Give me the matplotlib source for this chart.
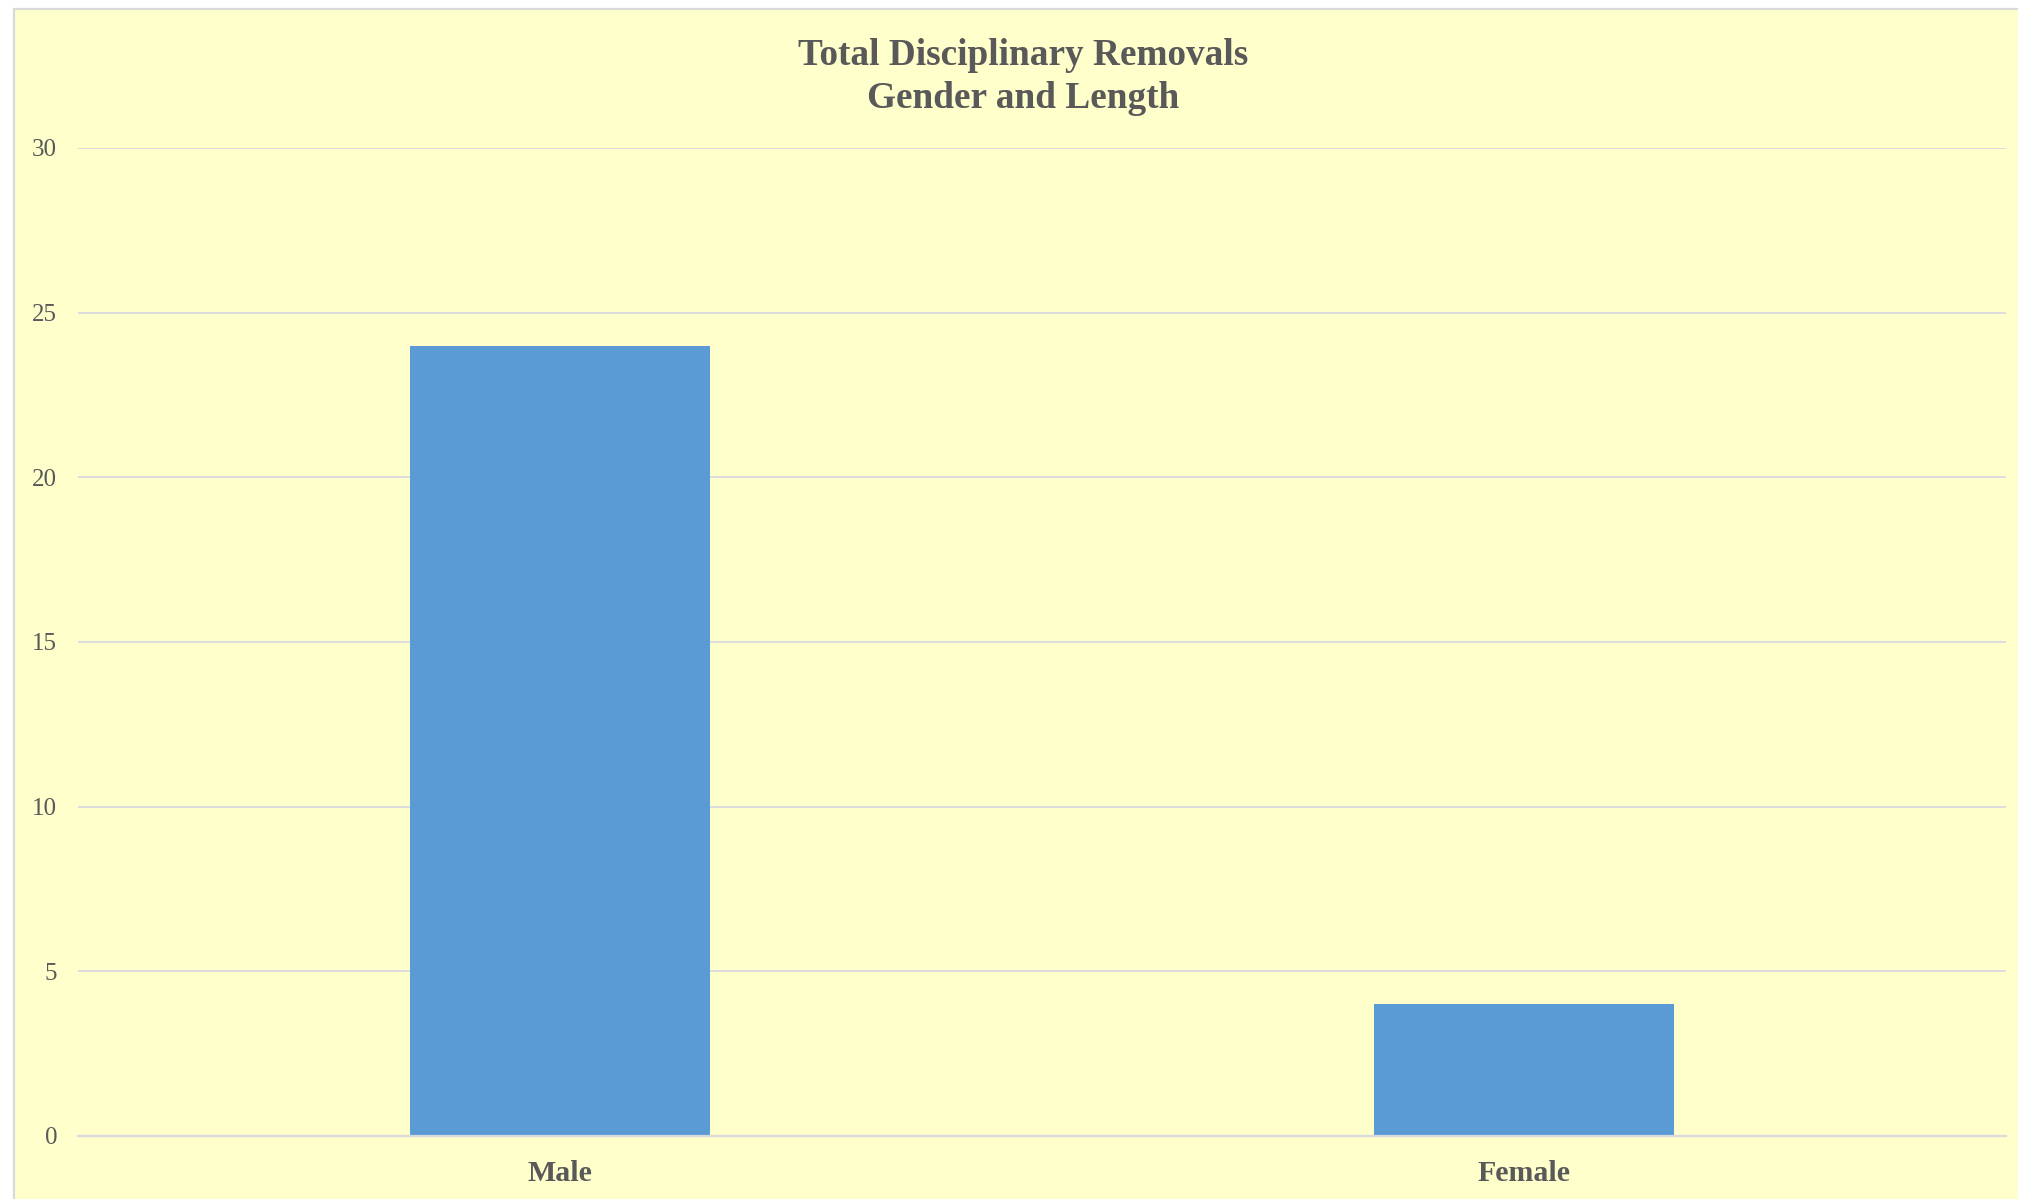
import matplotlib
matplotlib.use("Agg")
import matplotlib.pyplot as plt
from matplotlib.patches import Rectangle

categories = ["Male", "Female"]
values = [24, 4]
yticks = [0, 5, 10, 15, 20, 25, 30]
title = "Total Disciplinary Removals\nGender and Length"

W, H = 2018, 1199
DPI = 100
TEXT = "#595959"
GRID = "#D9D9DE"
BG = "#FFFFCC"
BAR = "#5B9BD5"

plt.rcParams["font.family"] = ["Liberation Serif", "DejaVu Serif"]

fig = plt.figure(figsize=(W / DPI, H / DPI), dpi=DPI, facecolor="white")

# chart area panel with border on left/top
panel = Rectangle((14 / W, -0.05), 1.1, 1 - 9 / H + 0.05, transform=fig.transFigure,
                  facecolor=BG, edgecolor="#D9D9D9", linewidth=1.6, clip_on=False, zorder=-10)
fig.patches.append(panel)

left, right = 78 / W, 2006 / W
bottom, top = (H - 1136) / H, (H - 148) / H
ax = fig.add_axes([left, bottom, right - left, top - bottom])
ax.set_zorder(5)
ax.set_facecolor("none")

x = range(len(categories))
ax.bar(x, values, width=0.312, color=BAR, zorder=3)

ax.set_xlim(-0.5, len(categories) - 0.5)
ax.set_ylim(0, 30)
ax.set_yticks(yticks)
ax.set_yticklabels([str(v) for v in yticks])
ax.set_xticks(list(x))
ax.set_xticklabels(categories)

ax.yaxis.grid(True, color=GRID, linewidth=1.3, zorder=0)
ax.set_axisbelow(True)
for s in ["top", "right", "left"]:
    ax.spines[s].set_visible(False)
ax.spines["bottom"].set_color(GRID)
ax.spines["bottom"].set_linewidth(1.6)
ax.spines["bottom"].set_zorder(4)

ax.tick_params(axis="y", length=0, pad=15, labelsize=18, labelcolor=TEXT)
ax.tick_params(axis="x", length=0, pad=17, labelsize=21.5, labelcolor=TEXT)
for lab in ax.get_xticklabels():
    lab.set_fontweight("bold")

fig.text(1023 / W, 1 - 77 / H, title, ha="center", va="center", fontsize=26.8,
         fontweight="bold", color=TEXT, linespacing=1.28, zorder=6)

fig.savefig("out.png", dpi=DPI, facecolor="white")
